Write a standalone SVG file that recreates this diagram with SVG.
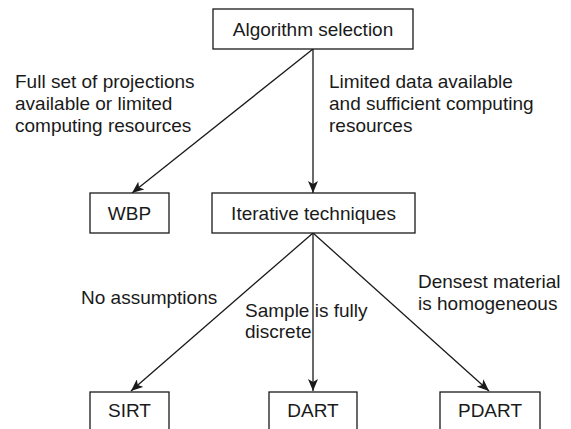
<svg xmlns="http://www.w3.org/2000/svg" width="571" height="429" viewBox="0 0 571 429">
<style>
.box{fill:#fff;stroke:#1a1a1a;stroke-width:1.3}
text{font-family:"Liberation Sans",Arial,sans-serif;font-size:19px;fill:#1a1a1a}
.c{text-anchor:middle}
.edge{stroke:#1a1a1a;stroke-width:1.3;fill:none;marker-end:url(#ah)}
</style>
<defs>
<marker id="ah" viewBox="0 0 12 10" refX="12" refY="5" markerWidth="12" markerHeight="10" markerUnits="userSpaceOnUse" orient="auto">
<path d="M0,0 L12,5 L0,10 L3,5 Z" fill="#1a1a1a"/>
</marker>
</defs>
<rect width="571" height="429" fill="#fff"/>
<g id="connectors">
<line class="edge" x1="313" y1="49" x2="132" y2="193"/>
<line class="edge" x1="313" y1="49" x2="313" y2="193"/>
<line class="edge" x1="313" y1="233" x2="131" y2="391"/>
<line class="edge" x1="313" y1="233" x2="313" y2="391"/>
<line class="edge" x1="313" y1="233" x2="489" y2="391"/>
</g>
<g id="labels">
<text x="15" y="88">Full set of projections</text>
<text x="15" y="110">available or limited</text>
<text x="15" y="132">computing resources</text>
<text x="329" y="88">Limited data available</text>
<text x="329" y="110">and sufficient computing</text>
<text x="329" y="132">resources</text>
<text x="81" y="304">No assumptions</text>
<text x="245" y="317">Sample is fully</text>
<text x="245" y="338">discrete</text>
<text x="418" y="288">Densest material</text>
<text x="418" y="310">is homogeneous</text>
</g>
<g id="n-algo"><rect class="box" x="213" y="9" width="200" height="40"/><text class="c" x="313" y="36">Algorithm selection</text></g>
<g id="n-wbp"><rect class="box" x="90" y="193" width="79" height="40"/><text class="c" x="129.5" y="220">WBP</text></g>
<g id="n-iter"><rect class="box" x="212" y="193" width="203" height="40"/><text class="c" x="313.5" y="220">Iterative techniques</text></g>
<g id="n-sirt"><rect class="box" x="90" y="392" width="79" height="50"/><text class="c" x="129.5" y="417">SIRT</text></g>
<g id="n-dart"><rect class="box" x="269" y="392" width="88" height="50"/><text class="c" x="313" y="417">DART</text></g>
<g id="n-pdart"><rect class="box" x="440" y="392" width="100" height="50"/><text class="c" x="490" y="417">PDART</text></g>
</svg>
